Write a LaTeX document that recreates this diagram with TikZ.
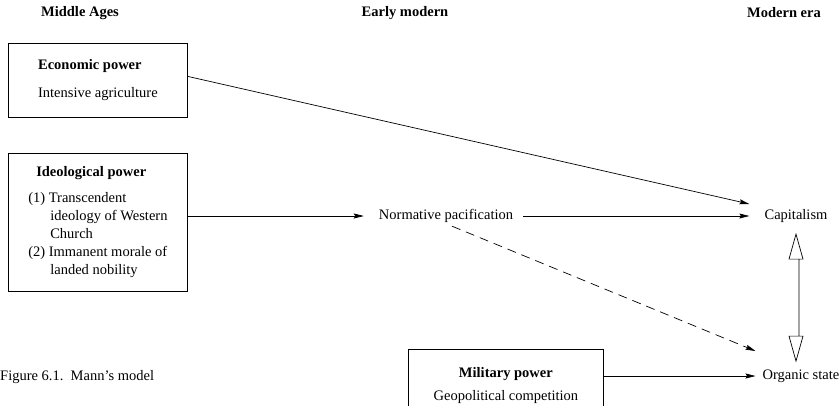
\documentclass[tikz,border=0pt]{standalone}
\usepackage{fontspec}
\setmainfont{Liberation Serif}
\usetikzlibrary{arrows.meta}

\tikzstyle{era}=[font=\fontsize{14.5}{18}\selectfont\bfseries]
\tikzstyle{power}=[draw, line width=0.8pt, anchor=north west, align=left]
\tikzstyle{stage}=[inner xsep=15pt]
\tikzstyle{flow}=[->, line width=0.7pt]
\tikzstyle{twoway}=[draw, line width=0.7pt, line join=miter]
\def\itemgap{22pt}
\def\headlen{25}

\begin{document}
\begin{tikzpicture}[x=1pt, y=-1pt, font=\fontsize{14.5}{18}\selectfont,
    >={Stealth[length=10pt, width=5pt, inset=1.5pt]}]
    \clip (0,0) rectangle (840,405);

	% Define the nodes in the picture
    \node (mid_hdr) [era] at (80,13) {Middle Ages};
    \node (early_hdr) [era] at (405,13) {Early modern};
    \node (modern_hdr) [era] at (784,13) {Modern era};

    \node (econ) [power, minimum width=179pt, minimum height=74pt] at (8,43)
        {\textbf{Economic power}\\[10pt]Intensive agriculture};
    \node (ideo) [power, minimum width=179pt, minimum height=138pt] at (8,153)
        {\hspace*{8pt}\textbf{Ideological power}\\[8pt]
         (1) Transcendent\\
         \hspace*{\itemgap}ideology of Western\\
         \hspace*{\itemgap}Church\\
         (2) Immanent morale of\\
         \hspace*{\itemgap}landed nobility};
    \node (mil) [power, align=center, minimum width=195pt, minimum height=72pt] at (408,349)
        {\textbf{Military power}\\[5pt]Geopolitical competition};

    \node (norm) [stage] at (446,216) {Normative pacification};
    \node (cap) [stage] at (796,216) {Capitalism};
    \node (org) [inner xsep=7pt] at (801,376) {Organic state};

    \node (caption) [anchor=west, inner sep=0pt] at (0,377) {Figure 6.1.\ \ Mann's model};

    % Define the edges in the picture
    \draw [flow] ([yshift=4pt]econ.east) -- ([yshift=12pt]cap.west);
    \draw [flow] (ideo.east |- norm.west) -- (norm.west);
    \draw [flow, shorten <=-5pt] (norm.east) -- (cap.west);
    \draw [flow, dash pattern=on 9pt off 6pt] ([xshift=6pt]norm.south) -- ([yshift=25pt]org.west);
    \draw [flow] (mil.east |- org.west) -- (org.west);

    % hollow two-way arrow between capitalism and the state
    \coordinate (up_tip) at ([yshift=-8pt]cap.south);
    \coordinate (down_tip) at ([yshift=5pt]cap.south |- org.north);
    \draw [twoway] (up_tip) -- ++(7,\headlen) -- ++(-4,0) |- ([shift={(-7pt,\headlen pt)}]down_tip)
        -- (down_tip) -- ++(7,-\headlen) -- ++(-4,0) |- ([shift={(-7pt,-\headlen pt)}]up_tip) -- cycle;
\end{tikzpicture}
\end{document}
